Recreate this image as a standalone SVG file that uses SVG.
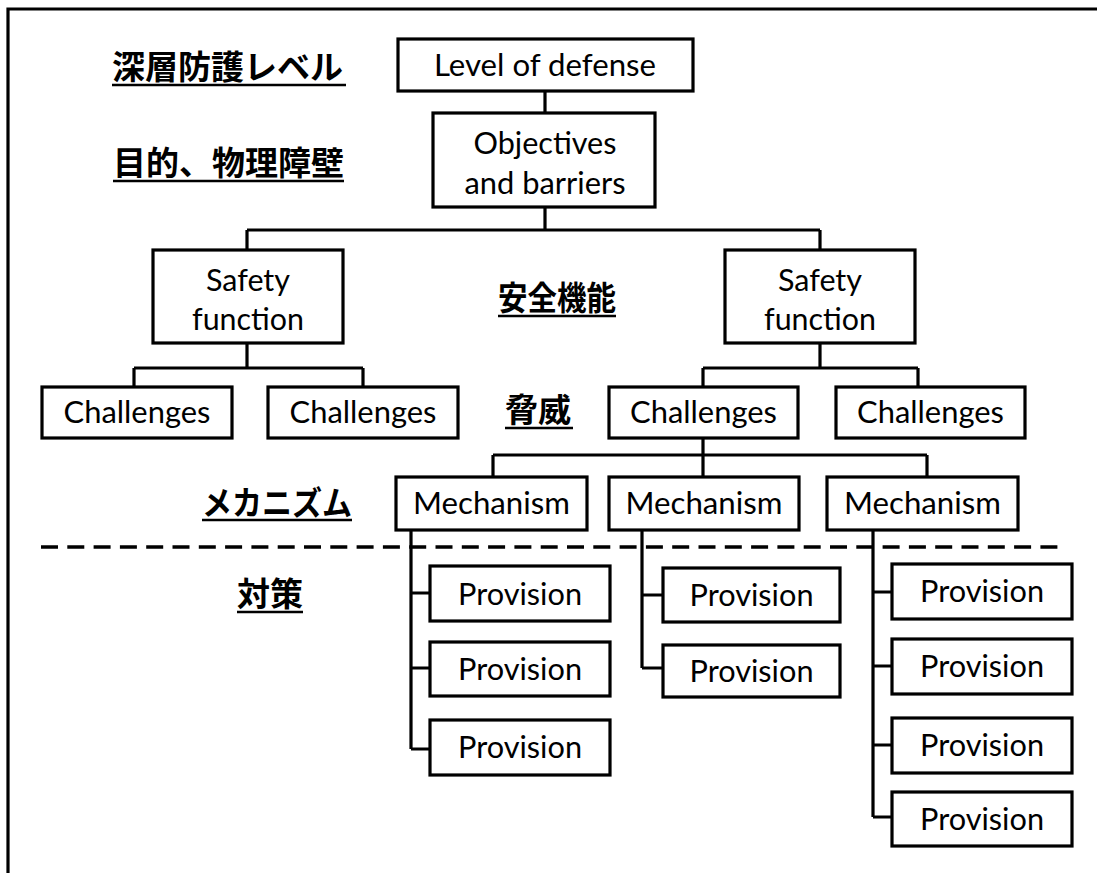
<svg xmlns="http://www.w3.org/2000/svg" width="1097" height="873" viewBox="0 0 1097 873">
<style>
.box{fill:#fff;stroke:#000;stroke-width:3.2}
.con{fill:none;stroke:#000;stroke-width:3.2}
.t{font-family:Lato,"Liberation Sans",sans-serif;font-size:30px;fill:#000;text-anchor:middle}
.jp{font-family:"Noto Sans CJK JP","Noto Sans",sans-serif;font-size:33px;font-weight:bold;fill:#000}
.ul{stroke:#000;stroke-width:2.6}
.dash{stroke:#000;stroke-width:3.5;stroke-dasharray:17 9.3}
</style>
<rect width="1097" height="873" fill="#fff"/>
<path class="con" d="M8,873 V9 H1097" stroke-width="3"/>
<g id="labels">
<text class="jp" x="112" y="79">深層防護レベル</text><line class="ul" x1="112" y1="85" x2="346" y2="85"/>
<text class="jp" x="113" y="175">目的、物理障壁</text><line class="ul" x1="113" y1="181" x2="344" y2="181"/>
<text class="jp" x="498" y="310" textLength="118" lengthAdjust="spacingAndGlyphs">安全機能</text><line class="ul" x1="498" y1="316" x2="616" y2="316"/>
<text class="jp" x="505" y="422">脅威</text><line class="ul" x1="505" y1="428" x2="573" y2="428"/>
<text class="jp" x="202" y="515" textLength="150" lengthAdjust="spacingAndGlyphs">メカニズム</text><line class="ul" x1="202" y1="520" x2="352" y2="520"/>
<text class="jp" x="237" y="606">対策</text><line class="ul" x1="237" y1="612" x2="303" y2="612"/>
</g>
<line class="dash" x1="41" y1="547" x2="1058" y2="547"/>
<g id="connectors">
<path class="con" d="M545,91 V113 M545,207 V230 M247,230 H820 M247,230 V250 M820,230 V250"/>
<path class="con" d="M247,343 V368 M134,368 H363 M134,368 V387 M363,368 V387"/>
<path class="con" d="M820,343 V368 M703,368 H918 M703,368 V387 M918,368 V387"/>
<path class="con" d="M703,438 V455 M493,455 H927 M493,455 V477 M703,455 V477 M927,455 V477"/>
<path class="con" d="M411,530 V749 M411,593 H430 M411,668 H430 M411,749 H430"/>
<path class="con" d="M642,530 V668 M642,595 H663 M642,668 H663"/>
<path class="con" d="M873,530 V817 M873,592 H892 M873,666 H892 M873,745 H892 M873,817 H892"/>
</g>
<g id="n-level"><rect class="box" x="398" y="39" width="295" height="52"/><text class="t" x="545" y="76" textLength="222" lengthAdjust="spacingAndGlyphs">Level of defense</text></g>
<g id="n-objectives"><rect class="box" x="433" y="113" width="222" height="94"/><text class="t" x="545" y="154" textLength="143" lengthAdjust="spacingAndGlyphs">Objectives</text><text class="t" x="545" y="194" textLength="161" lengthAdjust="spacingAndGlyphs">and barriers</text></g>
<g id="n-safety1"><rect class="box" x="153" y="250" width="190" height="93"/><text class="t" x="248" y="291" textLength="84" lengthAdjust="spacingAndGlyphs">Safety</text><text class="t" x="248" y="330" textLength="112" lengthAdjust="spacingAndGlyphs">function</text></g>
<g id="n-safety2"><rect class="box" x="725" y="250" width="190" height="93"/><text class="t" x="820" y="291" textLength="84" lengthAdjust="spacingAndGlyphs">Safety</text><text class="t" x="820" y="330" textLength="112" lengthAdjust="spacingAndGlyphs">function</text></g>
<g id="n-ch1"><rect class="box" x="42" y="387" width="190" height="51"/><text class="t" x="137" y="423" textLength="147" lengthAdjust="spacingAndGlyphs">Challenges</text></g>
<g id="n-ch2"><rect class="box" x="268" y="387" width="190" height="51"/><text class="t" x="363" y="423" textLength="147" lengthAdjust="spacingAndGlyphs">Challenges</text></g>
<g id="n-ch3"><rect class="box" x="609" y="387" width="189" height="51"/><text class="t" x="703.5" y="423" textLength="147" lengthAdjust="spacingAndGlyphs">Challenges</text></g>
<g id="n-ch4"><rect class="box" x="836" y="387" width="189" height="51"/><text class="t" x="930.5" y="423" textLength="147" lengthAdjust="spacingAndGlyphs">Challenges</text></g>
<g id="n-m1"><rect class="box" x="396" y="477" width="191" height="53"/><text class="t" x="491.5" y="514" textLength="157" lengthAdjust="spacingAndGlyphs">Mechanism</text></g>
<g id="n-m2"><rect class="box" x="609" y="477" width="190" height="53"/><text class="t" x="704" y="514" textLength="157" lengthAdjust="spacingAndGlyphs">Mechanism</text></g>
<g id="n-m3"><rect class="box" x="827" y="477" width="191" height="53"/><text class="t" x="922.5" y="514" textLength="157" lengthAdjust="spacingAndGlyphs">Mechanism</text></g>
<g id="n-p1a"><rect class="box" x="430" y="566" width="180" height="55"/><text class="t" x="520" y="605" textLength="124" lengthAdjust="spacingAndGlyphs">Provision</text></g>
<g id="n-p1b"><rect class="box" x="430" y="642" width="180" height="54"/><text class="t" x="520" y="680" textLength="124" lengthAdjust="spacingAndGlyphs">Provision</text></g>
<g id="n-p1c"><rect class="box" x="430" y="720" width="180" height="55"/><text class="t" x="520" y="758" textLength="124" lengthAdjust="spacingAndGlyphs">Provision</text></g>
<g id="n-p2a"><rect class="box" x="663" y="568" width="177" height="54"/><text class="t" x="751.5" y="606" textLength="124" lengthAdjust="spacingAndGlyphs">Provision</text></g>
<g id="n-p2b"><rect class="box" x="663" y="645" width="177" height="52"/><text class="t" x="751.5" y="682" textLength="124" lengthAdjust="spacingAndGlyphs">Provision</text></g>
<g id="n-p3a"><rect class="box" x="892" y="564" width="180" height="55"/><text class="t" x="982" y="602" textLength="124" lengthAdjust="spacingAndGlyphs">Provision</text></g>
<g id="n-p3b"><rect class="box" x="892" y="639" width="180" height="55"/><text class="t" x="982" y="677" textLength="124" lengthAdjust="spacingAndGlyphs">Provision</text></g>
<g id="n-p3c"><rect class="box" x="892" y="718" width="180" height="55"/><text class="t" x="982" y="756" textLength="124" lengthAdjust="spacingAndGlyphs">Provision</text></g>
<g id="n-p3d"><rect class="box" x="892" y="792" width="180" height="54"/><text class="t" x="982" y="830" textLength="124" lengthAdjust="spacingAndGlyphs">Provision</text></g>
</svg>
